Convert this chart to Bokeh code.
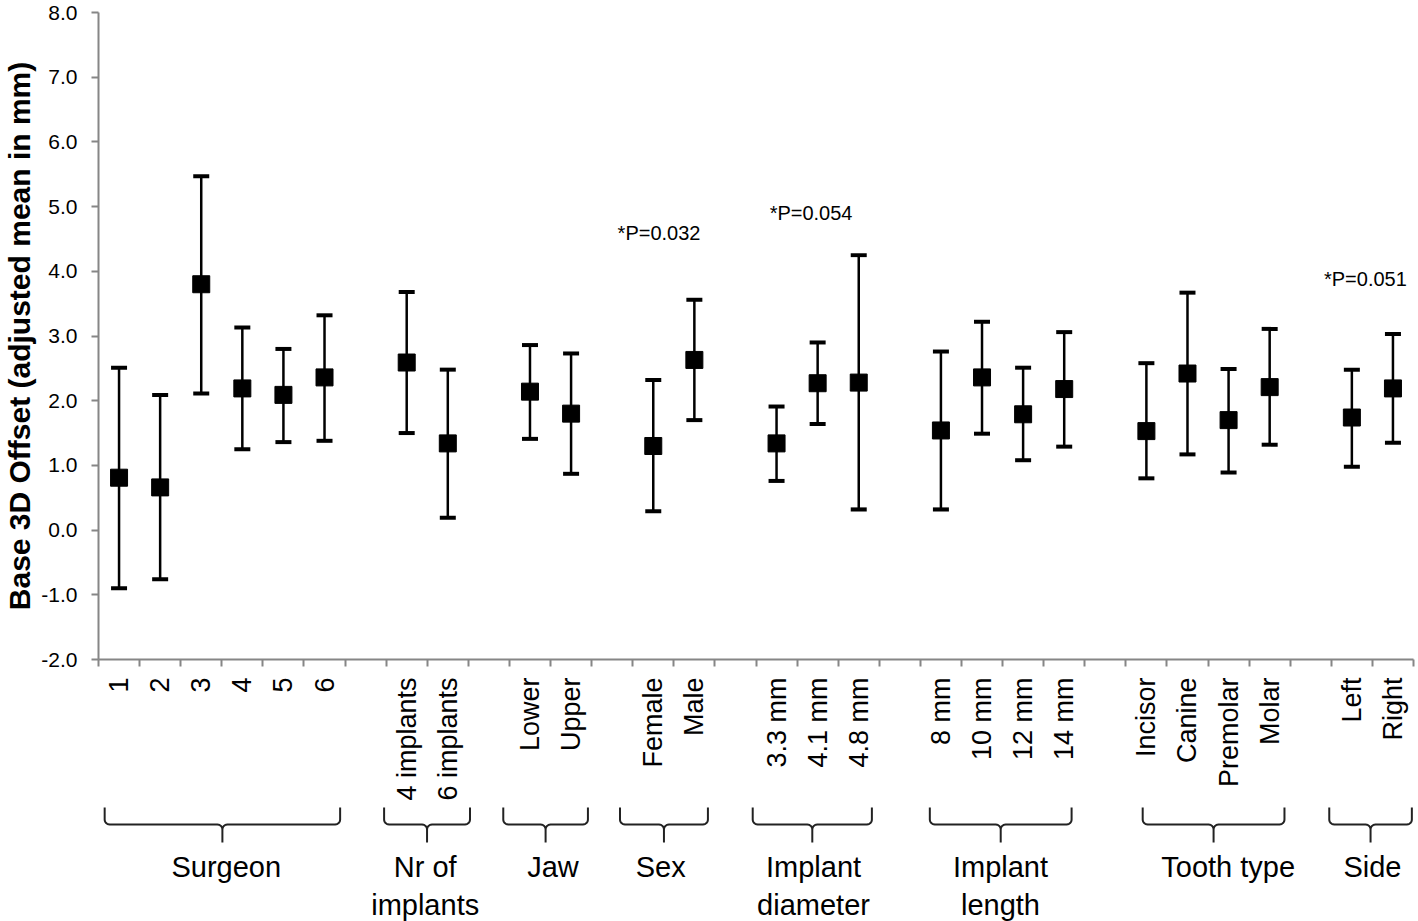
import math
from bokeh.plotting import figure
from bokeh.models import Range1d, FixedTicker, ColumnDataSource, PrintfTickFormatter
from bokeh.layouts import column
from bokeh.embed import file_html
from bokeh.resources import INLINE
from bokeh.core.properties import value

# ---------------- data ----------------
categories = ["1", "2", "3", "4", "5", "6",
              "4 implants", "6 implants",
              "Lower", "Upper",
              "Female", "Male",
              "3.3 mm", "4.1 mm", "4.8 mm",
              "8 mm", "10 mm", "12 mm", "14 mm",
              "Incisor", "Canine", "Premolar", "Molar",
              "Left", "Right"]
group_titles = ["Surgeon", "Nr of\nimplants", "Jaw", "Sex", "Implant\ndiameter",
                "Implant\nlength", "Tooth type", "Side"]
group_sizes = [6, 2, 2, 2, 3, 4, 4, 2]
means = [0.81, 0.66, 3.80, 2.19, 2.09, 2.36,
         2.59, 1.34,
         2.14, 1.80,
         1.30, 2.63,
         1.34, 2.27, 2.28,
         1.54, 2.36, 1.79, 2.18,
         1.53, 2.42, 1.70, 2.21,
         1.74, 2.19]
upper = [2.51, 2.09, 5.47, 3.13, 2.80, 3.32,
         3.68, 2.48,
         2.86, 2.73,
         2.32, 3.56,
         1.91, 2.90, 4.25,
         2.76, 3.22, 2.51, 3.06,
         2.58, 3.67, 2.49, 3.11,
         2.48, 3.03]
lower = [-0.90, -0.76, 2.11, 1.25, 1.36, 1.38,
         1.50, 0.19,
         1.41, 0.87,
         0.29, 1.70,
         0.76, 1.64, 0.32,
         0.32, 1.49, 1.08, 1.29,
         0.80, 1.17, 0.89, 1.32,
         0.98, 1.35]
y_ticks = [-2, -1, 0, 1, 2, 3, 4, 5, 6, 7, 8]
annotations = ["*P=0.032", "*P=0.054", "*P=0.051"]

# ---------------- layout (positions of decorations) ----------------
ann_x = [13.64, 17.34, 30.83]
ann_y = [4.59, 4.90, 3.88]
brace_x0 = [0.15, 6.95, 9.85, 12.69, 15.92, 20.23, 25.41, 29.95]
brace_x1 = [5.88, 9.04, 11.91, 14.83, 18.82, 23.68, 28.86, 31.96]
group_label_x = [3.11, 7.95, 11.06, 13.68, 17.40, 21.95, 27.49, 31.0]

FONT = "Liberation Sans"
AXIS_GREY = "#868686"

# slot positions: one slot per category, one empty slot between groups
xs = []
slot = 0
for gi, n in enumerate(group_sizes):
    for k in range(n):
        slot += 1
        xs.append(slot - 0.5)
    if gi < len(group_sizes) - 1:
        slot += 1
n_slots = slot

W = 1418
BL, BR = 97, 5
H1, H2 = 803, 118
p = figure(width=W, height=H1, x_range=Range1d(0, n_slots), y_range=Range1d(-2, 8),
           output_backend="svg", toolbar_location=None,
           min_border_left=BL, min_border_right=BR, min_border_top=12, min_border_bottom=143)
p.outline_line_color = None
p.xgrid.visible = False
p.ygrid.visible = False
p.background_fill_color = "white"
p.border_fill_color = "white"

xa = p.xaxis[0]
xa.ticker = FixedTicker(ticks=xs, minor_ticks=list(range(0, n_slots + 1)))
xa.major_label_overrides = {x: c for x, c in zip(xs, categories)}
xa.major_label_orientation = math.pi / 2
xa.major_tick_line_color = None
xa.major_tick_out = 7
xa.major_tick_in = 0
xa.minor_tick_out = 7
xa.minor_tick_in = 0
xa.minor_tick_line_color = AXIS_GREY
xa.minor_tick_line_width = 2
xa.axis_line_color = AXIS_GREY
xa.axis_line_width = 2
xa.major_label_text_font = FONT
xa.major_label_text_font_size = "27px"
xa.major_label_text_color = "black"
xa.major_label_standoff = 11

ya = p.yaxis[0]
ya.ticker = FixedTicker(ticks=y_ticks)
ya.formatter = PrintfTickFormatter(format="%.1f")
ya.major_tick_out = 7
ya.major_tick_in = 0
ya.minor_tick_line_color = None
ya.major_tick_line_color = AXIS_GREY
ya.major_tick_line_width = 2
ya.axis_line_color = AXIS_GREY
ya.axis_line_width = 2
ya.major_label_text_font = FONT
ya.major_label_text_font_size = "21px"
ya.major_label_text_color = "black"
ya.major_label_standoff = 14
ya.axis_label = "Base 3D Offset (adjusted mean in mm)"
ya.axis_label_text_font = FONT
ya.axis_label_text_font_size = "30px"
ya.axis_label_text_font_style = "bold"
ya.axis_label_text_color = "black"
ya.axis_label_standoff = 2

src = ColumnDataSource(dict(x=xs, mean=means, upper=upper, lower=lower, cat=categories))
p.segment(x0="x", y0="lower", x1="x", y1="upper", line_width=2.5, line_color="black", source=src)
p.scatter(x="x", y="upper", marker="dash", size=16, line_width=4, line_color="black", source=src)
p.scatter(x="x", y="lower", marker="dash", size=16, line_width=4, line_color="black", source=src)
p.scatter(x="x", y="mean", marker="square", size=17, fill_color="black", line_color="black",
          line_width=1, source=src)

p.text(x=ann_x, y=ann_y, text=annotations, text_font=value(FONT), text_font_size="20px",
       text_align="center", text_baseline="middle", text_color="black")

# ---------------- brace strip ----------------
q = figure(width=W, height=H2, x_range=p.x_range, y_range=Range1d(H2, 0),
           output_backend="svg", toolbar_location=None,
           min_border_left=BL, min_border_right=BR, min_border_top=0, min_border_bottom=0,
           x_axis_location=None, y_axis_location=None)
q.outline_line_color = None
q.xgrid.visible = False
q.ygrid.visible = False
q.background_fill_color = "white"
q.border_fill_color = "white"

slot_px = (W - BL - BR) / n_slots
ytop, ybar, ytip, rpx = 4.0, 21.0, 39.0, 5.0
rx = rpx / slot_px


def arc(cx, cy, a0, a1, n=6):
    pts = []
    for i in range(n + 1):
        a = a0 + (a1 - a0) * i / n
        pts.append((cx + rx * math.cos(a), cy + rpx * math.sin(a)))
    return pts


brace_xs, brace_ys = [], []
for x0, x1 in zip(brace_x0, brace_x1):
    xm = (x0 + x1) / 2
    pts = [(x0, ytop)]
    pts += arc(x0 + rx, ybar - rpx, math.pi, math.pi / 2)
    pts += arc(xm - rx, ybar + rpx, -math.pi / 2, 0)
    pts += [(xm, ytip), (xm, ybar + rpx)]
    pts += arc(xm + rx, ybar + rpx, math.pi, 1.5 * math.pi)
    pts += arc(x1 - rx, ybar - rpx, math.pi / 2, 0)
    pts += [(x1, ytop)]
    brace_xs.append([pt[0] for pt in pts])
    brace_ys.append([pt[1] for pt in pts])

q.multi_line(xs=brace_xs, ys=brace_ys, line_color="#222222", line_width=2)
q.text(x=group_label_x, y=[47] * len(group_titles), text=group_titles,
       text_font=value(FONT), text_font_size="29px", text_align="center",
       text_baseline="top", text_line_height=1.2, text_color="black")

layout = column(p, q, spacing=0)
open("out.html", "w").write(file_html(layout, INLINE))
